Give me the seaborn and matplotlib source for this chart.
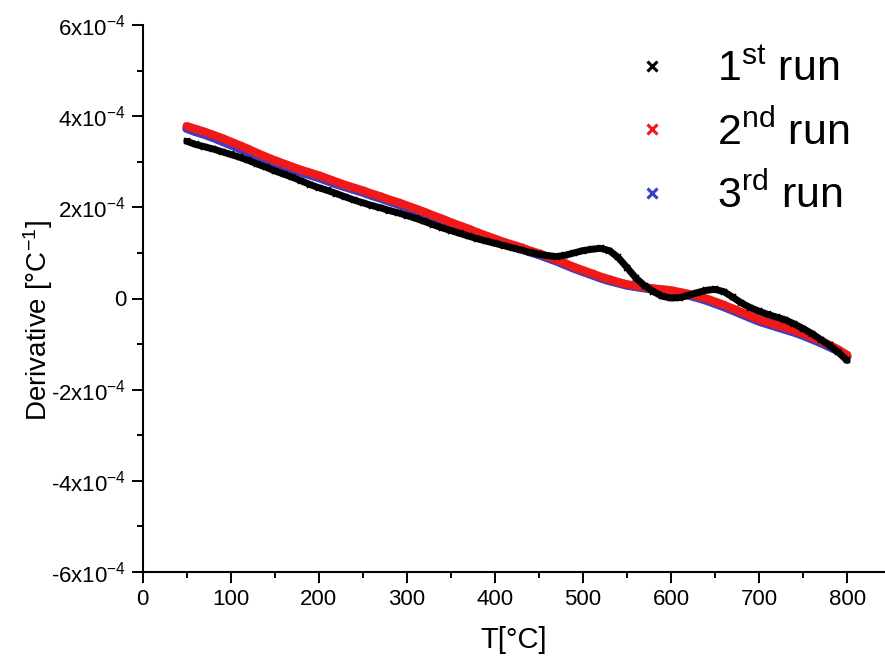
import numpy as np
import pandas as pd
import matplotlib
matplotlib.use("Agg")
import matplotlib.pyplot as plt
from matplotlib.lines import Line2D
from matplotlib.ticker import MultipleLocator
import seaborn as sns

# ---- data (derivative in units of 1e-4 per °C) ----
T = list(range(50, 801, 10))

run1 = [3.45, 3.38, 3.33, 3.28, 3.22, 3.16, 3.10, 3.03, 2.95, 2.88,
        2.80, 2.73, 2.66, 2.58, 2.50, 2.43, 2.37, 2.30, 2.23, 2.16,
        2.10, 2.04, 1.99, 1.93, 1.88, 1.82, 1.76, 1.69, 1.62, 1.55,
        1.49, 1.43, 1.37, 1.31, 1.26, 1.21, 1.16, 1.11, 1.06, 1.01,
        0.97, 0.94, 0.92, 0.95, 1.00, 1.05, 1.08, 1.10, 1.05, 0.90,
        0.68, 0.45, 0.28, 0.15, 0.05, 0.01, 0.02, 0.07, 0.13, 0.18,
        0.20, 0.15, 0.03, -0.10, -0.20, -0.28, -0.35, -0.41, -0.47, -0.56,
        -0.66, -0.77, -0.90, -1.03, -1.18, -1.36]

run2 = [3.78, 3.72, 3.66, 3.59, 3.52, 3.44, 3.36, 3.28, 3.19, 3.11,
        3.03, 2.96, 2.89, 2.82, 2.76, 2.70, 2.63, 2.56, 2.49, 2.43,
        2.37, 2.30, 2.24, 2.17, 2.11, 2.04, 1.97, 1.90, 1.82, 1.75,
        1.67, 1.60, 1.53, 1.45, 1.38, 1.31, 1.24, 1.18, 1.12, 1.05,
        0.99, 0.92, 0.85, 0.77, 0.69, 0.62, 0.55, 0.48, 0.42, 0.36,
        0.31, 0.28, 0.25, 0.22, 0.20, 0.18, 0.14, 0.10, 0.05, 0.00,
        -0.07, -0.14, -0.22, -0.30, -0.38, -0.46, -0.52, -0.58, -0.64, -0.70,
        -0.77, -0.85, -0.93, -1.02, -1.12, -1.24]

run3 = [3.73, 3.66, 3.60, 3.53, 3.45, 3.37, 3.29, 3.21, 3.12, 3.05,
        2.97, 2.90, 2.83, 2.77, 2.71, 2.65, 2.58, 2.51, 2.45, 2.39,
        2.33, 2.26, 2.20, 2.13, 2.07, 2.00, 1.93, 1.86, 1.79, 1.72,
        1.64, 1.57, 1.50, 1.42, 1.35, 1.28, 1.21, 1.15, 1.09, 1.02,
        0.96, 0.89, 0.82, 0.74, 0.66, 0.59, 0.52, 0.45, 0.39, 0.34,
        0.29, 0.26, 0.23, 0.20, 0.17, 0.15, 0.11, 0.07, 0.02, -0.04,
        -0.11, -0.18, -0.26, -0.34, -0.42, -0.50, -0.56, -0.62, -0.68, -0.74,
        -0.81, -0.89, -0.97, -1.06, -1.15, -1.27]

labels = ["1$^{\\mathrm{st}}$ run", "2$^{\\mathrm{nd}}$ run", "3$^{\\mathrm{rd}}$ run"]
colors = ["#000000", "#f01818", "#3b3fc4"]

ytick_vals = [-6, -4, -2, 0, 2, 4, 6]
ytick_labels = ["-6x10$^{\\mathrm{-4}}$", "-4x10$^{\\mathrm{-4}}$", "-2x10$^{\\mathrm{-4}}$", "0",
                "2x10$^{\\mathrm{-4}}$", "4x10$^{\\mathrm{-4}}$", "6x10$^{\\mathrm{-4}}$"]
xtick_vals = [0, 100, 200, 300, 400, 500, 600, 700, 800]

# ---- figure ----
sns.set_theme(style="ticks")
plt.rcParams["font.family"] = ["Liberation Sans", "DejaVu Sans"]
plt.rcParams["mathtext.fontset"] = "custom"
plt.rcParams["mathtext.rm"] = "Liberation Sans"
plt.rcParams["mathtext.it"] = "Liberation Sans:italic"
plt.rcParams["axes.unicode_minus"] = False
plt.rcParams["text.color"] = "black"
plt.rcParams["axes.labelcolor"] = "black"

fig = plt.figure(figsize=(8.85, 6.59), dpi=100)
ax = fig.add_axes([142.7 / 885, 1 - 572 / 659, 1 - 142.7 / 885, (572 - 25) / 659])

df = pd.DataFrame({"T": T * 3,
                   "val": run1 + run2 + run3,
                   "run": [labels[0]] * len(T) + [labels[1]] * len(T) + [labels[2]] * len(T)})

# draw 3rd, then 2nd, then 1st on top
for lab, col, lw in [(labels[2], colors[2], 6.5), (labels[1], colors[1], 6.0), (labels[0], colors[0], 5.0)]:
    sub = df[df["run"] == lab]
    sns.lineplot(data=sub, x="T", y="val", ax=ax, color=col, linewidth=lw,
                 marker="x", markersize=5, markeredgewidth=1.2, mec=col,
                 legend=False, sort=True, estimator=None)

ax.set_xlim(0, 843)
ax.set_ylim(-6, 6)
ax.set_xticks(xtick_vals)
ax.set_xticklabels([str(v) for v in xtick_vals])
ax.set_yticks(ytick_vals)
ax.set_yticklabels(ytick_labels)
ax.xaxis.set_minor_locator(MultipleLocator(50))
ax.yaxis.set_minor_locator(MultipleLocator(1))

for s in ["top", "right"]:
    ax.spines[s].set_visible(False)
for s in ["left", "bottom"]:
    ax.spines[s].set_color("black")
    ax.spines[s].set_linewidth(1.5)

ax.tick_params(which="major", direction="out", length=8, width=1.4, colors="black",
               labelcolor="black", labelsize=16, pad=4)
ax.tick_params(which="minor", direction="out", length=4.5, width=1.4, colors="black")

ax.set_xlabel("T[°C]", fontsize=21, labelpad=12, color="black")
ax.set_ylabel("Derivative [°C$^{\\mathrm{-1}}$]", fontsize=20, color="black")
ax.yaxis.set_label_coords(-0.118, 0.46)

handles = [Line2D([], [], linestyle="none", marker="x", color=c, markersize=7,
                  markeredgewidth=2.2) for c in colors]
leg = fig.legend(handles, labels, loc="upper right", bbox_to_anchor=(1.003, 0.983),
                 frameon=False, fontsize=31, handletextpad=1.0, labelspacing=0.49,
                 handlelength=1.0)
for t in leg.get_texts():
    t.set_color("black")

fig.savefig("out.png", dpi=100)
